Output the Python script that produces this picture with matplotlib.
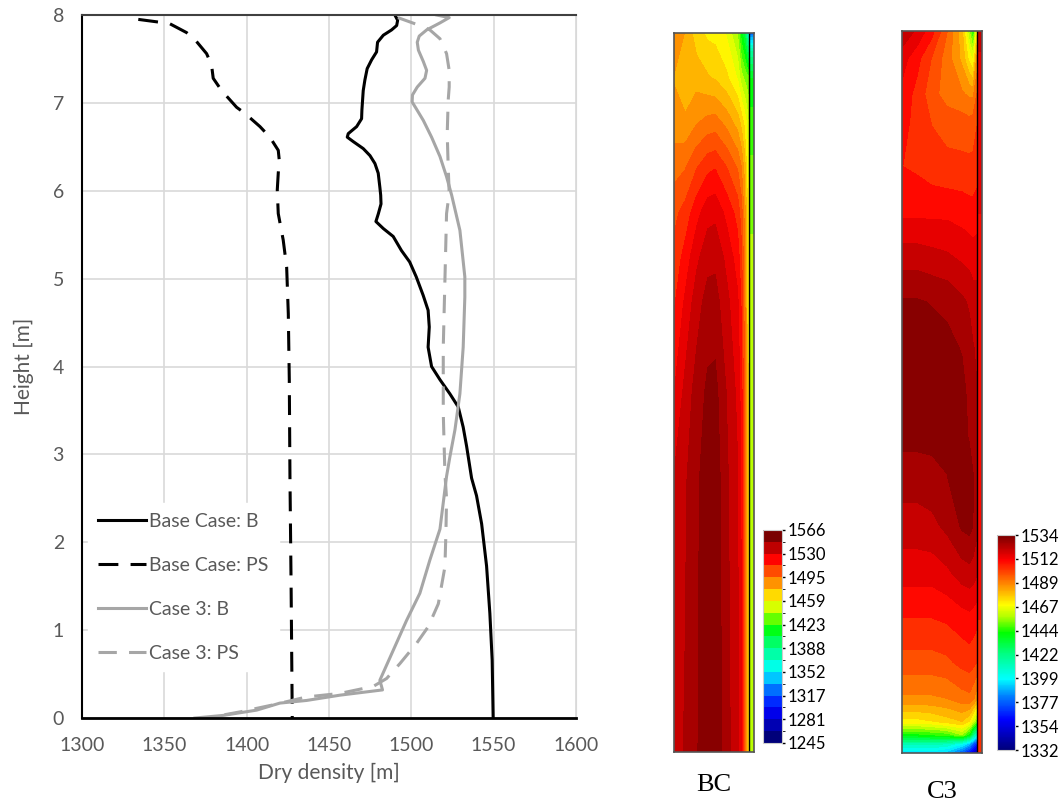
import numpy as np
import matplotlib
matplotlib.use("Agg")
import matplotlib.pyplot as plt
from matplotlib.colors import LinearSegmentedColormap, BoundaryNorm, Normalize
from matplotlib.cm import ScalarMappable

plt.rcParams['font.family'] = ['Lato', 'DejaVu Sans']

# --- profile curves (dry density vs height) ---
bc_b_x = [1490.0, 1491.7, 1491.1, 1488.0, 1483.0, 1479.5, 1478.9, 1475.9, 1473.2, 1471.8,
          1470.8, 1470.4, 1470.0, 1469.8, 1466.8, 1461.7, 1461.1, 1464.7, 1470.8, 1474.9,
          1477.9, 1479.9, 1480.9, 1481.4, 1481.6, 1480.0, 1478.5, 1483.0, 1489.0, 1494.0,
          1499.0, 1503.0, 1507.2, 1510.2, 1510.9, 1510.2, 1512.3, 1517.4, 1523.4, 1528.5,
          1531.5, 1533.6, 1536.6, 1539.6, 1542.7, 1545.7, 1547.7, 1549.1, 1549.7]
bc_b_h = [8.0, 7.94, 7.88, 7.83, 7.77, 7.69, 7.58, 7.49, 7.39, 7.26,
          7.14, 7.03, 6.92, 6.82, 6.73, 6.65, 6.61, 6.56, 6.48, 6.40,
          6.31, 6.20, 6.04, 5.95, 5.85, 5.74, 5.65, 5.57, 5.48, 5.32,
          5.19, 5.02, 4.81, 4.64, 4.45, 4.22, 4.00, 3.85, 3.69, 3.54,
          3.31, 3.09, 2.73, 2.53, 2.21, 1.73, 1.19, 0.66, 0.0]

bc_ps_x = [1334.2, 1346.3, 1353.4, 1363.5, 1368.6, 1375.7, 1378.7, 1379.7, 1384.8, 1393.9,
           1399.0, 1408.1, 1414.1, 1419.2, 1419.8, 1419.2, 1418.6, 1419.2, 1422.2, 1424.3,
           1425.3, 1425.9, 1426.3, 1427.0, 1427.7]
bc_ps_h = [7.95, 7.92, 7.90, 7.80, 7.72, 7.56, 7.43, 7.28, 7.14, 6.95,
           6.88, 6.73, 6.61, 6.46, 6.35, 6.20, 6.01, 5.74, 5.44, 5.13,
           4.60, 3.85, 2.75, 1.5, 0.0]

c3_b_x = [1515.4, 1523.0, 1517.4, 1509.3, 1504.8, 1503.6, 1504.3, 1507.3, 1509.3, 1508.3,
          1503.6, 1500.7, 1500.5, 1502.8, 1507.3, 1512.3, 1517.4, 1521.4, 1524.5, 1529.5,
          1532.5, 1532.5, 1531.5, 1529.5, 1526.5, 1523.4, 1521.4, 1517.4, 1511.3, 1505.2,
          1497.1, 1489.0, 1480.9, 1482.5, 1456.6, 1436.4, 1420.2, 1406.1, 1385.8, 1368.6]
c3_b_h = [8.0, 7.97, 7.91, 7.83, 7.76, 7.69, 7.60, 7.47, 7.37, 7.28,
          7.18, 7.09, 7.01, 6.94, 6.80, 6.61, 6.39, 6.16, 5.95, 5.55,
          5.02, 4.79, 4.22, 3.69, 3.28, 2.97, 2.75, 2.15, 1.80, 1.42,
          1.11, 0.77, 0.43, 0.32, 0.26, 0.20, 0.17, 0.09, 0.03, 0.0]

c3_ps_x = [1491.9, 1505.2, 1511.3, 1517.4, 1521.4, 1523.0, 1523.0, 1522.4, 1521.8, 1522.4,
           1523.0, 1521.4, 1520.4, 1519.4, 1519.4, 1520.4, 1521.4, 1521.0, 1520.4, 1516.4,
           1510.3, 1503.2, 1493.1, 1485.0, 1476.9, 1456.6, 1436.4, 1416.1, 1396.0, 1375.7]
c3_ps_h = [7.97, 7.88, 7.83, 7.73, 7.56, 7.37, 7.18, 7.03, 6.65, 6.27,
           5.97, 5.74, 4.98, 4.22, 3.47, 2.78, 2.5, 2.1, 1.72, 1.30,
           1.04, 0.85, 0.62, 0.45, 0.36, 0.28, 0.24, 0.15, 0.07, 0.0]

# --- contour fields ---
bc_cols = [0, 0.15, 0.3, 0.45, 0.55, 0.7, 0.85, 0.9, 0.94, 0.97, 1.0]
bc_rows = [0, 3, 4, 5, 5.5, 6, 6.5, 7, 7.5, 8]
bc_vals = [
    [1544, 1549, 1556, 1564, 1564, 1552, 1541, 1530, 1508, 1485, 1460],
    [1540, 1547, 1555, 1563, 1563, 1550, 1540, 1529, 1507, 1484, 1460],
    [1530, 1542, 1552, 1559, 1560, 1548, 1537, 1526, 1505, 1482, 1460],
    [1520, 1532, 1544, 1552, 1552, 1542, 1532, 1520, 1500, 1480, 1458],
    [1515, 1525, 1537, 1545, 1546, 1537, 1526, 1515, 1497, 1478, 1457],
    [1510, 1516, 1527, 1536, 1537, 1528, 1518, 1508, 1492, 1475, 1455],
    [1500, 1503, 1512, 1519, 1521, 1513, 1503, 1495, 1483, 1468, 1452],
    [1490, 1488, 1494, 1498, 1499, 1492, 1482, 1474, 1466, 1458, 1448],
    [1485, 1478, 1482, 1478, 1476, 1470, 1458, 1445, 1440, 1437, 1435],
    [1495, 1485, 1472, 1466, 1465, 1458, 1440, 1418, 1405, 1385, 1350],
]
bc_strip_rows = [0, 5, 6, 7, 7.5, 7.8, 8]
bc_strip_vals = [1448, 1445, 1440, 1428, 1415, 1380, 1320]
bc_ticks = ['1245', '1281', '1317', '1352', '1388', '1423', '1459', '1495', '1530', '1566']

c3_cols = [0, 0.2, 0.4, 0.6, 0.8, 0.9, 0.95, 1.0]
c3_rows = [0, 0.1, 0.2, 0.35, 0.6, 1.0, 1.5, 2.0, 2.5, 3.0, 3.5, 4.0, 4.5, 5.0, 5.5,
           6.0, 6.5, 7.0, 7.3, 7.7, 8.0]
c3_vals = [
    [1395, 1395, 1395, 1390, 1375, 1360, 1350, 1345],
    [1412, 1412, 1412, 1410, 1400, 1390, 1375, 1365],
    [1442, 1442, 1444, 1446, 1455, 1440, 1420, 1405],
    [1470, 1470, 1472, 1475, 1478, 1472, 1462, 1450],
    [1488, 1488, 1488, 1489, 1492, 1493, 1490, 1485],
    [1498, 1498, 1498, 1499, 1502, 1503, 1502, 1500],
    [1506, 1506, 1506, 1507, 1509, 1510, 1509, 1508],
    [1514, 1514, 1514, 1516, 1520, 1521, 1520, 1518],
    [1520, 1520, 1521, 1524, 1529, 1530, 1528, 1524],
    [1525, 1525, 1526, 1528, 1531, 1531, 1529, 1526],
    [1530, 1530, 1530, 1530, 1530, 1528, 1526, 1524],
    [1531, 1531, 1531, 1531, 1530, 1527, 1525, 1523],
    [1531, 1531, 1531, 1530, 1528, 1525, 1523, 1522],
    [1529, 1529, 1528, 1527, 1524, 1522, 1520, 1520],
    [1520, 1520, 1519, 1518, 1516, 1515, 1514, 1514],
    [1510, 1510, 1510, 1510, 1509, 1508, 1508, 1509],
    [1506, 1505, 1503, 1502, 1502, 1502, 1502, 1503],
    [1508, 1504, 1500, 1498, 1497, 1496, 1497, 1500],
    [1510, 1504, 1497, 1492, 1490, 1488, 1488, 1495],
    [1514, 1508, 1500, 1492, 1482, 1470, 1465, 1485],
    [1522, 1516, 1508, 1495, 1480, 1455, 1440, 1470],
]
c3_strip_rows = [0, 2, 5, 7.5, 8]
c3_strip_vals = [1503, 1507, 1510, 1514, 1520]
c3_ticks = ['1332', '1354', '1377', '1399', '1422', '1444', '1467', '1489', '1512', '1534']

rainbow = LinearSegmentedColormap.from_list('rainbow_fl', [
    (0.0, '#00007a'), (0.14, '#0000ff'), (0.25, '#0080ff'), (0.33, '#00ffff'),
    (0.45, '#00ff80'), (0.545, '#00ff00'), (0.62, '#b0ff00'), (0.675, '#ffff00'),
    (0.78, '#ff8000'), (0.885, '#ff0000'), (1.0, '#7a0000')])

fig = plt.figure(figsize=(10.59, 8.02), dpi=100)

# ---------------- line chart ----------------
ax = fig.add_axes([0.0774, 0.1047, 0.4665, 0.8766])
grey = '#a6a6a6'
ax.plot(bc_b_x, bc_b_h, color='black', lw=2.2, label='Base Case: B')
ax.plot(bc_ps_x, bc_ps_h, color='black', lw=2.2, dashes=(6.5, 4), label='Base Case: PS')
ax.plot(c3_b_x, c3_b_h, color=grey, lw=2.2, label='Case 3: B')
ax.plot(c3_ps_x, c3_ps_h, color=grey, lw=2.2, dashes=(6, 4), label='Case 3: PS')
ax.set_xlim(1300, 1600)
ax.set_ylim(0, 8)
ax.set_xticks(np.arange(1300, 1601, 50))
ax.set_yticks(np.arange(0, 9, 1))
ax.grid(True, color='#d9d9d9', lw=1.2)
ax.set_axisbelow(True)
ax.tick_params(length=0, labelsize=14, labelcolor='#595959')
ax.tick_params(axis='x', pad=14)
ax.tick_params(axis='y', pad=13)
ax.spines['left'].set_color('black')
ax.spines['left'].set_linewidth(1.5)
ax.spines['bottom'].set_color('black')
ax.spines['bottom'].set_linewidth(2)
ax.spines['top'].set_color('#404040')
ax.spines['top'].set_linewidth(1.5)
ax.spines['right'].set_color('#d9d9d9')
ax.set_xlabel('Dry density [m]', fontsize=15, color='#595959', labelpad=6)
ax.set_ylabel('Height [m]', fontsize=15, color='#595959', labelpad=13)
leg = ax.legend(loc='center left', bbox_to_anchor=(0.0, 0.186), fontsize=14,
                frameon=True, framealpha=1, edgecolor='white', fancybox=False,
                handlelength=2.47, handletextpad=0.2, labelspacing=1.38,
                borderpad=0.5, borderaxespad=0.3)
for t in leg.get_texts():
    t.set_color('#595959')


# ---------------- contour panels ----------------
def panel(rect, cols, rows, vals, srows, svals, lo, hi, name, name_y):
    a = fig.add_axes(rect)
    lv = np.linspace(lo, hi, 37)
    a.contourf(cols, rows, np.array(vals, float), levels=lv, cmap=rainbow,
               norm=Normalize(lo, hi), extend='both')
    sv = np.array(svals, float)
    a.contourf([1.0, 1.067], srows, np.column_stack([sv, sv]), levels=lv, cmap=rainbow,
               norm=Normalize(lo, hi), extend='both')
    a.axvline(1.0, color='black', lw=1)
    a.set_xlim(0, 1.067)
    a.set_ylim(0, 8)
    a.set_xticks([])
    a.set_yticks([])
    for s in a.spines.values():
        s.set_color('#555555')
        s.set_linewidth(1.2)
    fig.text(rect[0] + rect[2] / 2, name_y, name, family='Liberation Serif',
             fontsize=19, ha='center', va='center')
    return a


panel([0.6364, 0.0623, 0.0755, 0.8965], bc_cols, bc_rows, bc_vals,
      bc_strip_rows, bc_strip_vals, 1245, 1566, 'BC', 0.021)
panel([0.8517, 0.0611, 0.0755, 0.9002], c3_cols, c3_rows, c3_vals,
      c3_strip_rows, c3_strip_vals, 1332, 1534, 'C3', 0.012)

# colorbars
cax1 = fig.add_axes([0.7205, 0.0736, 0.0179, 0.2656])
b1 = np.linspace(1245, 1566, 19)
cb1 = fig.colorbar(ScalarMappable(norm=BoundaryNorm(b1, 256), cmap=rainbow), cax=cax1,
                   boundaries=b1, ticks=np.linspace(1245, 1566, 10))
cb1.ax.set_yticklabels(bc_ticks)
cax2 = fig.add_axes([0.9415, 0.0648, 0.0170, 0.268])
cb2 = fig.colorbar(ScalarMappable(norm=Normalize(1332, 1534), cmap=rainbow), cax=cax2,
                   ticks=np.linspace(1332, 1534, 10))
cb2.ax.set_yticklabels(c3_ticks)
for cb in (cb1, cb2):
    cb.outline.set_edgecolor('#cccccc')
    cb.ax.tick_params(length=2, width=1, labelsize=12, pad=2)

fig.savefig('out.png', dpi=100)
